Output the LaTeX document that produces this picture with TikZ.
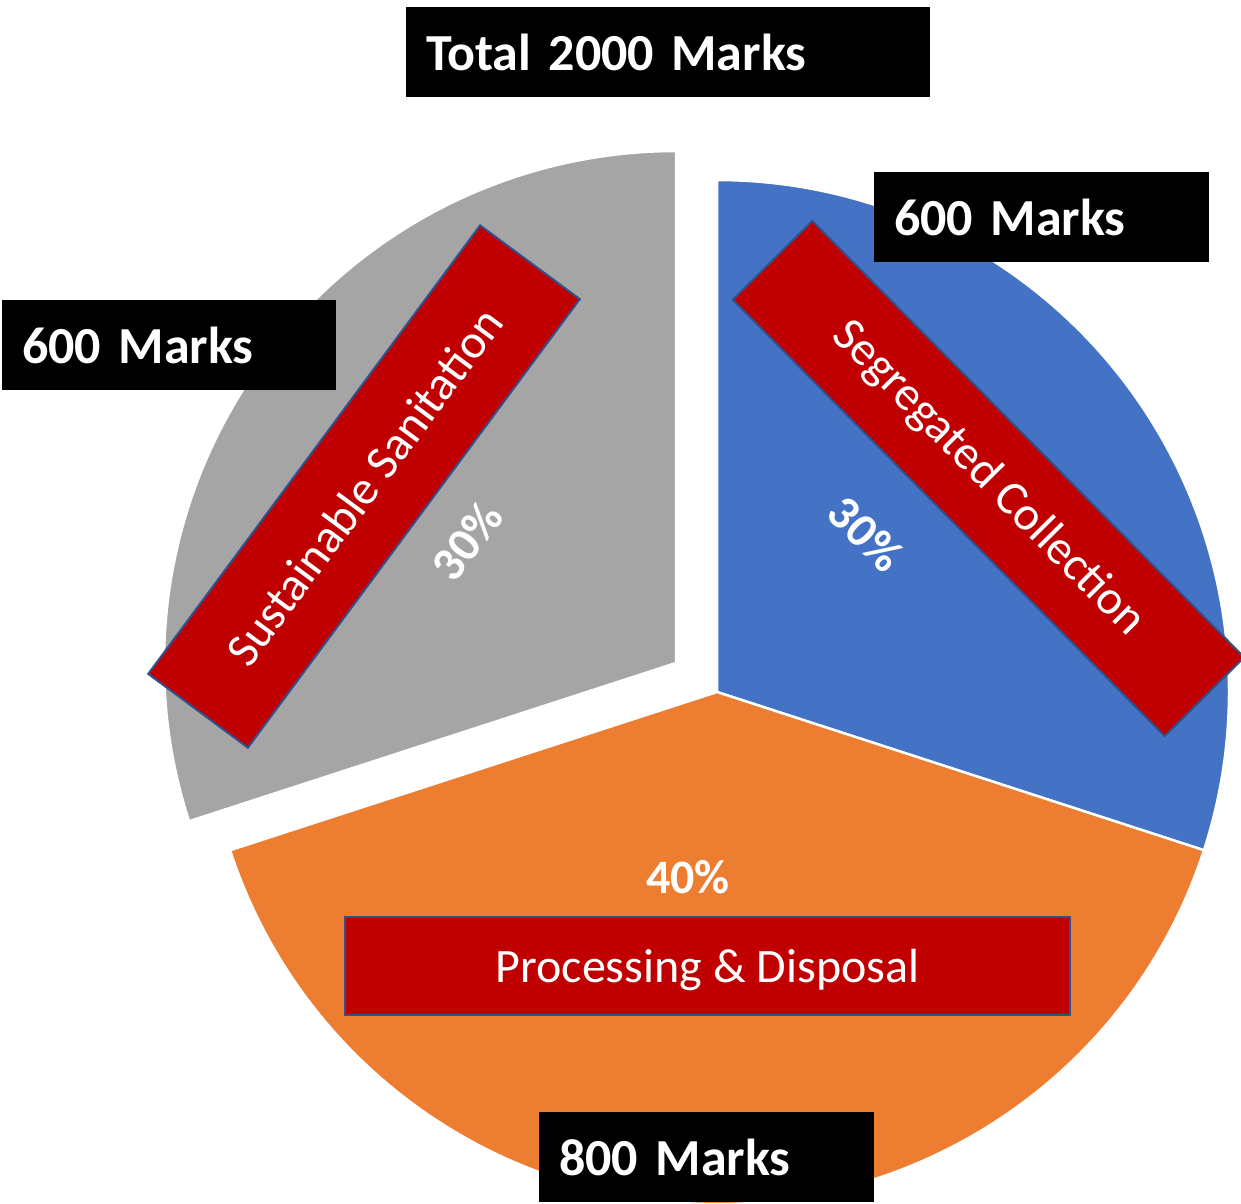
\documentclass[tikz,border=0pt]{standalone}
\usepackage{fontspec}
\setmainfont{Carlito}
\definecolor{pieblue}{HTML}{4472C4}
\definecolor{pieorange}{HTML}{ED7D31}
\definecolor{piegray}{HTML}{A5A5A5}
\definecolor{boxred}{HTML}{C00000}
\definecolor{boxedge}{HTML}{2F528F}
\begin{document}
\begin{tikzpicture}[x=1pt,y=1pt,
  slice/.style={draw=white, line width=2.5pt, line join=miter},
  redbox/.style={fill=boxred, draw=boxedge, line width=2pt, text=white,
    font=\fontsize{48}{56}\selectfont, inner sep=0pt},
  blackbox/.style={fill=black, text=white, font=\bfseries\fontsize{52}{60}\selectfont,
    anchor=north west, inner xsep=20pt, inner ysep=0pt, minimum height=90pt, align=left},
  pct/.style={text=white, font=\bfseries\fontsize{48}{56}\selectfont, inner sep=0pt}]
\useasboundingbox (0,0) rectangle (1241,-1203);
\coordinate (c) at (717,-692);
\coordinate (g) at (676,-663);
% slices
\path[slice, fill=pieblue] (c) -- ++(90:512) arc[start angle=90, end angle=-18, radius=512] -- cycle;
\path[slice, fill=pieorange] (c) -- ++(-18:512) arc[start angle=-18, end angle=-162, radius=512] -- cycle;
\path[slice, fill=piegray] (g) -- ++(-162:512) arc[start angle=-162, end angle=-270, radius=512] -- cycle;
% category boxes
\node[redbox, minimum width=614pt, minimum height=112pt, rotate=-45.3] (seg) at (988.5,-478.5) {Segregated Collection};
\node[redbox, minimum width=558pt, minimum height=124pt, rotate=53.5] (sus) at (364,-486.5) {Sustainable Sanitation};
\node[redbox, minimum width=725pt, minimum height=98pt, text height=32pt, text depth=0pt] (proc) at (707.5,-966) {Processing \& Disposal};
% percentages
\node[pct, rotate=-45] (p1) at (866,-534) {30\%};
\node[pct, rotate=53] (p2) at (467,-541) {30\%};
\node[pct] (p3) at (688,-877) {40\%};
% marks boxes
\node[blackbox, text width=484pt] (total) at (406,-7) {Total 2000 Marks};
\node[blackbox, text width=295pt] (m1) at (874,-172) {600 Marks};
\node[blackbox, text width=294pt] (m2) at (2,-300) {600 Marks};
\node[blackbox, text width=295pt] (m3) at (539,-1112) {800 Marks};
\end{tikzpicture}
\end{document}
